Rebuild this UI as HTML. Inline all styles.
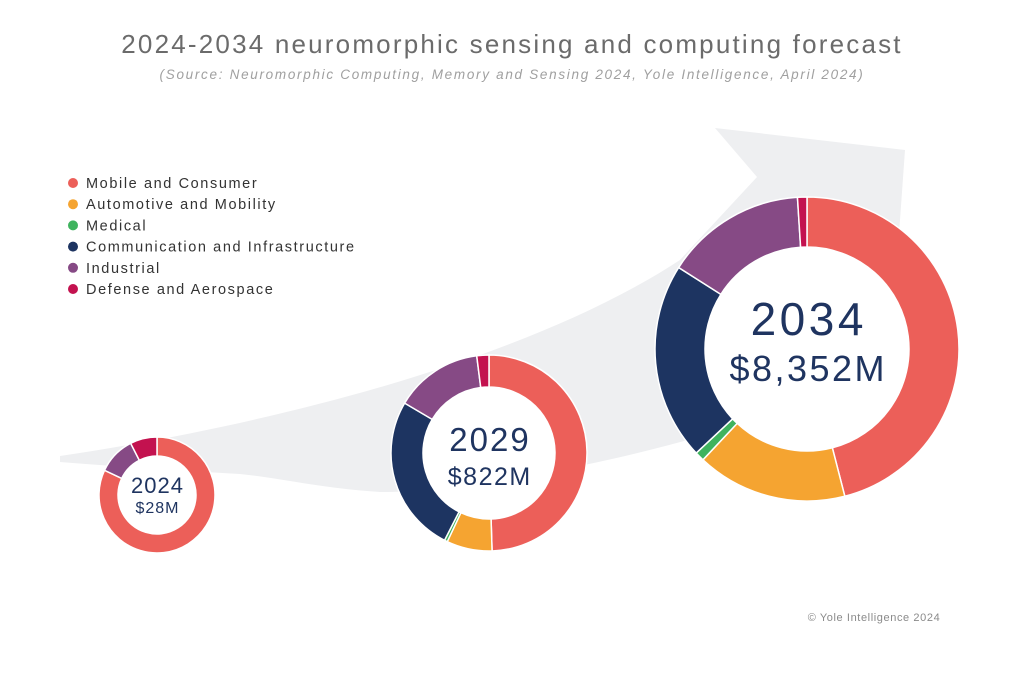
<!DOCTYPE html>
<html><head><meta charset="utf-8">
<style>
body{margin:0;background:#fff;font-family:"Liberation Sans",sans-serif;}
#wrap{position:relative;width:1024px;height:682px;overflow:hidden;background:#fff;}
</style></head>
<body>
<div id="wrap">
<svg id="chart" width="1024" height="682">
  <path fill="#eeeff1"
    d="M60,456 C250,428 520,365 680,260 L757,177 L715,128 L905,150 L890,360 C780,420 660,450 560,470 C480,488 420,492 380,492 C320,488 280,478 240,474 C170,470 110,466 60,462 Z"/>
  <text x="512" y="53" text-anchor="middle" font-size="26" letter-spacing="2.2" fill="#6b6b6b">2024-2034 neuromorphic sensing and computing forecast</text>
  <text x="512" y="79" text-anchor="middle" font-size="13.5" font-style="italic" letter-spacing="1.7" fill="#a0a0a0">(Source: Neuromorphic Computing, Memory and Sensing 2024, Yole Intelligence, April 2024)</text>
  <g id="legend"></g>
  <g id="donuts"></g>
  <text x="874" y="621" text-anchor="middle" font-size="11" letter-spacing="0.6" fill="#8a8a8a">© Yole Intelligence 2024</text>
</svg>
</div>
<script>
const categories=["Mobile and Consumer","Automotive and Mobility","Medical","Communication and Infrastructure","Industrial","Defense and Aerospace"];
const colors=["#ec5f59","#f5a431","#3fb35e","#1d3461","#864a85","#c3124f"];
const years=["2024","2029","2034"];
const totals=["$28M","$822M","$8,352M"];
const share2024=[82,0,0,0,10.5,7.5];
const share2029=[49.5,7.5,0.5,26,14.5,2];
const share2034=[46,16,1,21,15,1];
const shares=[share2024,share2029,share2034];
const layout=[{cx:157,cy:495,r:58,ir:39,f1:22,f2:16,y1:-2,y2:18,ls1:1,ls2:1},
              {cx:489,cy:453,r:98,ir:66,f1:33,f2:25,y1:-2,y2:32,ls1:2,ls2:1.5},
              {cx:807,cy:349,r:152,ir:102,f1:46,f2:36,y1:-14,y2:32,ls1:3.5,ls2:2.5}];
const NS="http://www.w3.org/2000/svg";
const lg=document.getElementById('legend');
categories.forEach((c,i)=>{
  const g=document.createElementNS(NS,'g');
  
  
  const d=document.createElementNS(NS,'circle');
  d.setAttribute('cx',73);d.setAttribute('cy',183+i*21.2);d.setAttribute('r',5);d.setAttribute('fill',colors[i]);
  const t=document.createElementNS(NS,'text');
  t.setAttribute('x',86);t.setAttribute('y',188+i*21.2);t.setAttribute('font-size',14.5);t.setAttribute('letter-spacing','1.6');t.setAttribute('fill','#333');
  t.textContent=c;
  g.appendChild(d);g.appendChild(t);lg.appendChild(g);
});
const dg=document.getElementById('donuts');
function pt(cx,cy,r,a){const rad=a*Math.PI/180;return [cx+r*Math.sin(rad),cy-r*Math.cos(rad)];}
shares.forEach((s,k)=>{
  const L=layout[k];
  const g=document.createElementNS(NS,'g');
  
  
  const bg=document.createElementNS(NS,'circle');
  bg.setAttribute('cx',L.cx);bg.setAttribute('cy',L.cy);bg.setAttribute('r',L.ir);bg.setAttribute('fill','#fff');
  g.appendChild(bg);
  const sum=s.reduce((a,b)=>a+b,0);
  let a0=0;
  s.forEach((v,i)=>{
    if(v<=0)return;
    const a1=a0+v/sum*360;
    const p1=pt(L.cx,L.cy,L.r,a0),p2=pt(L.cx,L.cy,L.r,a1),p3=pt(L.cx,L.cy,L.ir,a1),p4=pt(L.cx,L.cy,L.ir,a0);
    const lf=(a1-a0)>180?1:0;
    const p=document.createElementNS(NS,'path');
    p.setAttribute('d',`M${p1} A${L.r},${L.r} 0 ${lf} 1 ${p2} L${p3} A${L.ir},${L.ir} 0 ${lf} 0 ${p4} Z`);
    p.setAttribute('fill',colors[i]);p.setAttribute('stroke','#fff');p.setAttribute('stroke-width','1.5');
    
    
    g.appendChild(p);
    a0=a1;
  });
  const t1=document.createElementNS(NS,'text');
  t1.setAttribute('x',L.cx+L.ls1/2);t1.setAttribute('y',L.cy+L.y1);t1.setAttribute('text-anchor','middle');t1.setAttribute('font-size',L.f1);t1.setAttribute('letter-spacing',L.ls1);t1.setAttribute('fill','#1f3460');
  t1.textContent=years[k];
  
  
  const t2=document.createElementNS(NS,'text');
  t2.setAttribute('x',L.cx+L.ls2/2);t2.setAttribute('y',L.cy+L.y2);t2.setAttribute('text-anchor','middle');t2.setAttribute('font-size',L.f2);t2.setAttribute('letter-spacing',L.ls2);t2.setAttribute('fill','#1f3460');
  t2.textContent=totals[k];
  
  
  g.appendChild(t1);g.appendChild(t2);
  dg.appendChild(g);
});
</script>
</body></html>
